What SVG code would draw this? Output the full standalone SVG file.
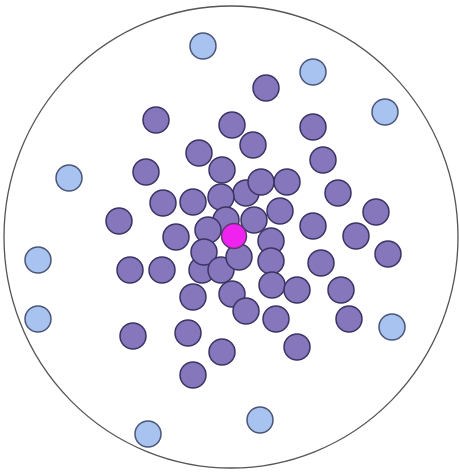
<svg xmlns="http://www.w3.org/2000/svg" width="459" height="474" viewBox="0 0 459 474">
<style>
.p{fill:#8677bd;stroke:#3b3462;stroke-width:1.5}
.b{fill:#a9c3f0;stroke:#4b5678;stroke-width:1.5}
.m{fill:#f022f0;stroke:#5a3a6a;stroke-width:1.5}
.o{fill:#fff;stroke:#555;stroke-width:1.3}
</style>
<rect width="459" height="474" fill="#fff"/>
<g id="boundary"><ellipse class="o" cx="231" cy="237" rx="227" ry="231"/></g>
<g id="outer">
<circle class="b" cx="203" cy="46" r="13"/>
<circle class="b" cx="313" cy="72" r="13"/>
<circle class="b" cx="385" cy="112" r="13"/>
<circle class="b" cx="69" cy="178" r="13"/>
<circle class="b" cx="38" cy="260" r="13"/>
<circle class="b" cx="38" cy="319" r="13"/>
<circle class="b" cx="392" cy="327" r="13"/>
<circle class="b" cx="260" cy="420" r="13"/>
<circle class="b" cx="148" cy="434" r="13"/>
</g>
<g id="inner">
<circle class="p" cx="266" cy="88" r="13"/>
<circle class="p" cx="156" cy="120" r="13"/>
<circle class="p" cx="232" cy="125" r="13"/>
<circle class="p" cx="313" cy="127" r="13"/>
<circle class="p" cx="253" cy="145" r="13"/>
<circle class="p" cx="199" cy="153" r="13"/>
<circle class="p" cx="323" cy="160" r="13"/>
<circle class="p" cx="146" cy="172" r="13"/>
<circle class="p" cx="222" cy="170" r="13"/>
<circle class="p" cx="287" cy="182" r="13"/>
<circle class="p" cx="338" cy="193" r="13"/>
<circle class="p" cx="246" cy="193" r="13"/>
<circle class="p" cx="261" cy="182" r="13"/>
<circle class="p" cx="221" cy="197" r="13"/>
<circle class="p" cx="193" cy="202" r="13"/>
<circle class="p" cx="163" cy="203" r="13"/>
<circle class="p" cx="119" cy="221" r="13"/>
<circle class="p" cx="280" cy="211" r="13"/>
<circle class="p" cx="376" cy="212" r="13"/>
<circle class="p" cx="254" cy="220" r="13"/>
<circle class="p" cx="313" cy="226" r="13"/>
<circle class="p" cx="356" cy="236" r="13"/>
<circle class="p" cx="176" cy="237" r="13"/>
<circle class="p" cx="226" cy="220" r="13"/>
<circle class="p" cx="208" cy="230" r="13"/>
<circle class="p" cx="271" cy="241" r="13"/>
<circle class="p" cx="388" cy="254" r="13"/>
<circle class="p" cx="130" cy="270" r="13"/>
<circle class="p" cx="162" cy="270" r="13"/>
<circle class="p" cx="202" cy="270" r="13"/>
<circle class="p" cx="204" cy="252" r="13"/>
<circle class="p" cx="221" cy="270" r="13"/>
<circle class="p" cx="239" cy="257" r="13"/>
<circle class="p" cx="271" cy="261" r="13"/>
<circle class="p" cx="321" cy="263" r="13"/>
<circle class="p" cx="272" cy="285" r="13"/>
<circle class="p" cx="297" cy="290" r="13"/>
<circle class="p" cx="341" cy="290" r="13"/>
<circle class="p" cx="193" cy="297" r="13"/>
<circle class="p" cx="232" cy="294" r="13"/>
<circle class="p" cx="246" cy="311" r="13"/>
<circle class="p" cx="276" cy="319" r="13"/>
<circle class="p" cx="349" cy="319" r="13"/>
<circle class="p" cx="133" cy="336" r="13"/>
<circle class="p" cx="188" cy="333" r="13"/>
<circle class="p" cx="297" cy="347" r="13"/>
<circle class="p" cx="222" cy="352" r="13"/>
<circle class="p" cx="193" cy="375" r="13"/>
</g>
<g id="center"><circle class="m" cx="234" cy="236" r="12.5"/></g>
</svg>
